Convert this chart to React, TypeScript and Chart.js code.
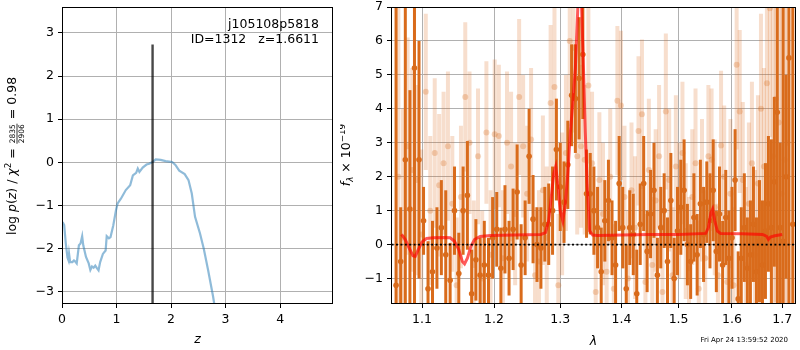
import React, { useEffect, useRef } from "react";
import { Chart, registerables } from "chart.js";

Chart.register(...registerables);

const FONT = "'DejaVu Sans', 'Liberation Sans', sans-serif";

// ---------------- Left panel: log p(z) ----------------
const zValues = [
  0.0, 0.02, 0.04, 0.07, 0.1, 0.12, 0.13, 0.15, 0.19, 0.22,
  0.24, 0.27, 0.31, 0.34, 0.37, 0.39, 0.44, 0.49, 0.52, 0.55,
  0.58, 0.61, 0.64, 0.67, 0.7, 0.75, 0.8, 0.82, 0.86, 0.89,
  0.94, 0.99, 1.02, 1.08, 1.17, 1.25, 1.3, 1.36, 1.39, 1.42,
  1.48, 1.55, 1.6, 1.66, 1.72, 1.81, 1.9, 2.02, 2.08, 2.15,
  2.25, 2.32, 2.38, 2.44, 2.53, 2.6, 2.68, 2.77, 2.82,
];
const logPzValues = [
  -1.38, -1.4, -1.45, -1.88, -2.2, -2.27, -2.12, -2.31, -2.31, -2.27,
  -2.29, -2.34, -1.92, -1.88, -1.71, -1.92, -2.19, -2.34, -2.49, -2.41,
  -2.44, -2.39, -2.45, -2.5, -2.31, -2.12, -2.04, -1.71, -1.76, -1.73,
  -1.46, -1.11, -0.95, -0.84, -0.64, -0.53, -0.3, -0.24, -0.14, -0.22,
  -0.12, -0.05, -0.03, 0.01, 0.07, 0.06, 0.03, 0.01, -0.06, -0.19,
  -0.27, -0.41, -0.72, -1.26, -1.64, -2.0, -2.5, -3.1, -3.5,
];
const zBest = 1.6611;
const zBestTop = 2.73;
const zTicks = [0, 1, 2, 3, 4];
const logPzTicks = [-3, -2, -1, 0, 1, 2, 3];
const objName = "j105108p5818";
const objInfo = "ID=1312   z=1.6611";
const chi2Num = "2835";
const chi2Den = "2906";
const chi2Val = "0.98";

// ---------------- Right panel: spectrum ----------------
const lamA = [
  1.066, 1.072, 1.078, 1.084, 1.09, 1.096, 1.102, 1.108, 1.114, 1.12,
  1.126, 1.132, 1.138, 1.144, 1.15, 1.156, 1.162, 1.168, 1.174, 1.18,
  1.186, 1.192, 1.198, 1.204, 1.21, 1.216, 1.222, 1.228, 1.234, 1.24,
  1.246, 1.252, 1.258, 1.264, 1.27, 1.276, 1.282, 1.288, 1.294, 1.3,
  1.306, 1.312, 1.318, 1.324, 1.33, 1.336, 1.342, 1.348, 1.354, 1.36,
  1.366, 1.372, 1.378, 1.384, 1.39, 1.396, 1.402, 1.408, 1.414, 1.42,
  1.426, 1.432, 1.438, 1.444, 1.45, 1.456, 1.462, 1.468, 1.474, 1.48,
  1.486, 1.492, 1.498, 1.504, 1.51, 1.516, 1.522, 1.528, 1.534, 1.54,
  1.546, 1.552, 1.558, 1.564, 1.57, 1.576, 1.582, 1.588, 1.594, 1.6,
  1.606, 1.612, 1.618, 1.624, 1.63, 1.636, 1.642, 1.648, 1.654, 1.66,
  1.666, 1.672, 1.678, 1.684, 1.69, 1.696, 1.702, 1.708, 1.714, 1.722,
];
const fluxA = [
  -1.2, -0.5, 2.5, 1.05, 5.2, 2.5, 0.7, -1.3, -0.8, -0.1,
  0.5, -0.3, -1.05, 1.0, -0.85, 1.0, 1.45, -1.45, -0.45, -0.9,
  -0.6, -0.9, 0.2, 0.45, -0.7, 0.45, -0.4, 0.45, 1.55, -0.6,
  0.2, 2.6, 0.75, 0.0, -0.1, 0.6, 0.6, 1.0, 2.8, 1.7,
  1.25, 2.35, 4.4, 4.3, 4.9, 5.6, 1.5, 1.5, 1.0, 0.5,
  -0.8, 0.7, 1.3, 0.2, -0.6, 1.8, 0.5, -1.3, 0.5, 0.3,
  -1.45, 0.6, 1.8, -0.2, 0.9, 1.6, -0.9, 0.5, 1.0, -0.5,
  1.3, -1.0, 0.4, 1.1, 1.6, 0.0, -0.5, 0.8, -0.3, 1.2,
  0.3, 1.25, 0.7, 1.6, -0.2, 0.9, -0.6, 0.8, -0.4, 0.2,
  1.9, -1.6, -0.4, 0.5, -0.7, -0.3, 0.6, -0.8, 0.1, -0.6,
  0.4, 1.2, 0.5, 1.85, 3.9, 0.5, 0.1, 2.0, 5.5, 0.6,
];
const errA = [
  9, 1.6, 9, 3.5, 9, 3.5, 1.0, 1.4, 1.5, 1.2,
  1.4, 1.9, 1.1, 1.3, 1.2, 1.3, 1.6, 1.3, 1.2, 1.1,
  1.3, 1.1, 1.2, 1.1, 1.2, 1.3, 1.1, 1.2, 1.4, 1.2,
  1.1, 1.4, 1.3, 1.1, 1.2, 1.1, 1.2, 1.3, 1.5, 1.3,
  1.2, 1.3, 1.5, 1.6, 1.8, 1.9, 1.3, 1.2, 1.3, 1.2,
  1.3, 1.2, 1.2, 1.1, 1.3, 1.4, 1.2, 1.3, 1.1, 1.2,
  1.3, 1.2, 1.4, 1.2, 1.3, 1.4, 1.1, 1.2, 1.1, 1.3,
  1.4, 1.2, 1.3, 1.4, 1.5, 1.2, 1.1, 1.3, 1.2, 1.3,
  1.4, 1.2, 1.4, 1.5, 1.2, 1.4, 1.3, 1.4, 1.4, 1.5,
  1.5, 1.4, 1.5, 1.6, 1.5, 1.6, 1.7, 1.6, 1.8, 1.9,
  2.0, 2.0, 2.6, 2.5, 9, 2.5, 9, 3.0, 9, 9,
];

const lamB = [
  1.069, 1.075, 1.081, 1.087, 1.093, 1.099, 1.105, 1.111, 1.117, 1.123,
  1.129, 1.135, 1.141, 1.147, 1.153, 1.159, 1.165, 1.171, 1.177, 1.183,
  1.189, 1.195, 1.201, 1.207, 1.213, 1.219, 1.225, 1.231, 1.237, 1.243,
  1.249, 1.255, 1.261, 1.267, 1.273, 1.279, 1.285, 1.291, 1.297, 1.303,
  1.309, 1.315, 1.321, 1.327, 1.333, 1.339, 1.345, 1.351, 1.357, 1.363,
  1.369, 1.375, 1.381, 1.387, 1.393, 1.399, 1.405, 1.411, 1.417, 1.423,
  1.429, 1.435, 1.441, 1.447, 1.453, 1.459, 1.465, 1.471, 1.477, 1.483,
  1.489, 1.495, 1.501, 1.507, 1.513, 1.519, 1.525, 1.531, 1.537, 1.543,
  1.549, 1.555, 1.561, 1.567, 1.573, 1.579, 1.585, 1.591, 1.597, 1.603,
  1.609, 1.615, 1.621, 1.627, 1.633, 1.639, 1.645, 1.651, 1.657, 1.663,
  1.669, 1.675, 1.681, 1.687, 1.693, 1.699, 1.705, 1.711,
];
const fluxB = [
  2.0, 0.2, 2.9, 2.2, 1.9, 0.3, 4.5, 1.0, 2.7, 1.75,
  2.4, 2.9, 1.2, -1.2, 1.4, 4.35, 3.0, -0.6, 2.6, -1.0,
  3.3, -0.3, 3.25, 3.2, -0.4, 3.0, 2.3, 0.9, 4.35, 2.9,
  1.5, 3.1, -0.9, -0.5, 1.6, 0.2, 4.17, 4.64, -1.2, 1.2,
  2.7, 6.0, 5.8, 2.6, 2.9, 2.5, 4.69, 2.4, -1.4, 1.9,
  0.9, -0.8, 2.0, -1.3, 4.24, 4.1, 1.4, -1.0, 1.6, 0.5,
  3.35, 3.84, -1.1, 2.2, -0.6, 1.3, 2.6, -1.4, 3.92, 1.9,
  -0.9, 2.3, 1.0, 2.7, 0.4, -0.7, 1.4, 2.4, -1.3, 1.6,
  -0.4, 2.6, 2.5, 1.1, -0.9, 2.92, 2.0, -1.1, 1.5, -1.2,
  5.3, 3.92, 1.9, -0.6, 1.2, 2.4, -0.3, 1.8, 4.0, 2.3,
  4.75, 6.96, 2.6, 4.3, 3.6, 1.5, 2.5, 3.0,
];
const errB = [
  6, 3.8, 3.2, 3.0, 2.8, 2.5, 2.3, 2.2, 2.2, 2.1,
  2.1, 2.2, 2.0, 2.0, 2.1, 2.2, 2.1, 1.9, 2.0, 2.0,
  2.1, 1.9, 2.2, 2.1, 2.0, 2.1, 2.2, 2.1, 2.3, 2.1,
  2.0, 2.1, 2.0, 2.1, 2.2, 2.1, 2.3, 2.4, 2.1, 2.1,
  2.3, 2.5, 2.5, 2.3, 2.4, 2.2, 2.3, 2.1, 2.0, 2.0,
  2.1, 2.0, 2.0, 1.9, 2.2, 2.2, 2.1, 2.0, 2.0, 2.1,
  2.2, 2.2, 2.0, 2.1, 2.0, 2.1, 2.1, 2.0, 2.3, 2.1,
  2.0, 2.1, 2.0, 2.1, 2.0, 2.1, 2.0, 2.2, 2.0, 2.1,
  2.0, 2.1, 2.1, 2.0, 2.1, 2.2, 2.1, 2.1, 2.2, 2.3,
  2.5, 2.4, 2.3, 2.3, 2.4, 2.4, 2.5, 2.6, 2.8, 2.9,
  3.3, 3.8, 4.8, 6, 7, 8, 9, 9,
];

const modelLam = [
  1.073, 1.078, 1.083, 1.088, 1.091, 1.095, 1.1, 1.106, 1.115, 1.13,
  1.138, 1.144, 1.15, 1.155, 1.158, 1.162, 1.167, 1.172, 1.18, 1.195,
  1.23, 1.27, 1.277, 1.282, 1.286, 1.29, 1.293, 1.296, 1.3, 1.304,
  1.308, 1.312, 1.316, 1.32, 1.324, 1.328, 1.331, 1.334, 1.337, 1.34,
  1.343, 1.347, 1.352, 1.36, 1.4, 1.45, 1.5, 1.55, 1.555, 1.56,
  1.563, 1.567, 1.572, 1.578, 1.62, 1.66, 1.668, 1.672, 1.676, 1.685,
  1.7,
];
const modelFlux = [
  0.3, 0.15, -0.1, -0.33, -0.35, -0.15, 0.08, 0.18, 0.2, 0.21,
  0.2, 0.1, -0.15, -0.5, -0.57, -0.4, -0.05, 0.15, 0.24, 0.27,
  0.28, 0.3, 0.35, 0.7, 1.4, 2.1, 2.3, 1.8, 1.0, 0.7,
  1.2, 2.1, 3.3, 4.2, 5.2, 7.0, 8.0, 7.0, 5.2, 3.3,
  1.8, 0.4, 0.28, 0.27, 0.28, 0.3, 0.3, 0.33, 0.5, 0.95,
  1.05, 0.7, 0.4, 0.33, 0.32, 0.3, 0.25, 0.15, 0.22, 0.26,
  0.3,
];
const lamTicks = [1.1, 1.2, 1.3, 1.4, 1.5, 1.6, 1.7];
const fluxTicks = [-1, 0, 1, 2, 3, 4, 5, 6, 7];
const dateText = "Fri Apr 24 13:59:52 2020";

// ---------------- helpers ----------------
const DARK = "rgb(217,107,27)";
const font = (size: number, italic = false) => `${italic ? "italic " : ""}${size}px ${FONT}`;
const withMinus = (v: number, d: number) => {
  const s = Math.abs(v).toFixed(d);
  return v < 0 ? "\u2212" + s : s;
};

type TextSeg = { kind: "t"; text: string; font: string; dy: number };
type FracSeg = { kind: "f"; num: string; den: string; font: string; numDy: number; bar: number; denDy: number; pad: number };
type Seg = TextSeg | FracSeg;

function segWidth(ctx: CanvasRenderingContext2D, s: Seg): number {
  ctx.font = s.font;
  if (s.kind === "t") return ctx.measureText(s.text).width;
  return Math.max(ctx.measureText(s.num).width, ctx.measureText(s.den).width) + 2 * s.pad;
}

function drawVerticalRich(ctx: CanvasRenderingContext2D, segs: Seg[], baseX: number, centerY: number) {
  ctx.save();
  ctx.translate(baseX, centerY);
  ctx.rotate(-Math.PI / 2);
  ctx.fillStyle = "black";
  ctx.textBaseline = "alphabetic";
  const widths = segs.map((s) => segWidth(ctx, s));
  const total = widths.reduce((a, b) => a + b, 0);
  let u = -total / 2;
  segs.forEach((s, i) => {
    ctx.font = s.font;
    if (s.kind === "t") {
      ctx.textAlign = "left";
      ctx.fillText(s.text, u, s.dy);
    } else {
      const w = widths[i];
      ctx.textAlign = "center";
      ctx.fillText(s.num, u + w / 2, s.numDy);
      ctx.fillText(s.den, u + w / 2, s.denDy);
      ctx.fillRect(u + 0.5, s.bar - 0.4, w - 1, 0.8);
    }
    u += widths[i];
  });
  ctx.restore();
}

function axis(type: string, min: number, max: number, ticks: number[], fmt: (v: number) => string, isX: boolean, size: number) {
  return {
    type,
    min,
    max,
    bounds: "data",
    afterBuildTicks: (s: any) => {
      s.ticks = ticks.map((v) => ({ value: v }));
    },
    afterFit: (s: any) => {
      if (isX) s.height = size;
      else s.width = size;
      s.paddingTop = 0;
      s.paddingBottom = 0;
      s.paddingLeft = 0;
      s.paddingRight = 0;
    },
    ticks: {
      callback: (v: any) => fmt(Number(v)),
      color: "black",
      font: { family: FONT, size: 12.5 },
      padding: 4,
      autoSkip: false,
      maxRotation: 0,
      minRotation: 0,
    },
    grid: { color: "#b0b0b0", lineWidth: 1, tickColor: "black", tickLength: 4, drawTicks: true, offset: false },
    border: { display: false },
  };
}

const framePlugin = {
  id: "frame",
  afterDatasetsDraw(chart: any) {
    const { ctx, chartArea: a } = chart;
    ctx.save();
    ctx.strokeStyle = "black";
    ctx.lineWidth = 1;
    const l = Math.round(a.left) + 0.5;
    const r = Math.round(a.right) - 0.5;
    const t = Math.round(a.top) + 0.5;
    const b = Math.round(a.bottom) - 0.5;
    ctx.strokeRect(l, t, r - l, b - t);
    ctx.restore();
  },
};

const leftTextPlugin = {
  id: "leftText",
  afterDraw(chart: any) {
    const { ctx, chartArea: a } = chart;
    ctx.save();
    ctx.fillStyle = "black";
    ctx.font = font(12.5);
    ctx.textAlign = "right";
    ctx.textBaseline = "alphabetic";
    ctx.fillText(objName, 319, 28);
    ctx.fillText(objInfo, 319, 43);
    ctx.textAlign = "center";
    ctx.font = font(12.5, true);
    ctx.fillText("z", (a.left + a.right) / 2, 343);
    ctx.restore();
    const R = font(12.5);
    const I = font(12.5, true);
    drawVerticalRich(
      ctx,
      [
        { kind: "t", text: "log ", font: R, dy: 0 },
        { kind: "t", text: "p", font: I, dy: 0 },
        { kind: "t", text: "(", font: R, dy: 0 },
        { kind: "t", text: "z", font: I, dy: 0 },
        { kind: "t", text: ") / ", font: R, dy: 0 },
        { kind: "t", text: "\u03c7", font: I, dy: 0 },
        { kind: "t", text: "2", font: font(8.75), dy: -5 },
        { kind: "t", text: " = ", font: R, dy: 0 },
        { kind: "f", num: chi2Num, den: chi2Den, font: font(7.5), numDy: -1, bar: 1.0, denDy: 7.8, pad: 1 },
        { kind: "t", text: " = " + chi2Val, font: R, dy: 0 },
      ],
      16,
      156
    );
  },
};

const rightTextPlugin = {
  id: "rightText",
  afterDraw(chart: any) {
    const { ctx, chartArea: a } = chart;
    ctx.save();
    ctx.fillStyle = "black";
    ctx.textAlign = "center";
    ctx.textBaseline = "alphabetic";
    ctx.font = font(12.5, true);
    ctx.fillText("\u03bb", (a.left + a.right) / 2, 345);
    ctx.font = font(7);
    ctx.textAlign = "right";
    ctx.fillText(dateText, 448, 342);
    ctx.restore();
    drawVerticalRich(
      ctx,
      [
        { kind: "t", text: "f", font: font(12.5, true), dy: 0 },
        { kind: "t", text: "\u03bb", font: font(8.75, true), dy: 2.5 },
        { kind: "t", text: " \u00d7 10", font: font(12.5), dy: 0 },
        { kind: "t", text: "\u221219", font: font(8.75), dy: -5.5 },
      ],
      10,
      155
    );
  },
};

function leftConfig(): any {
  return {
    type: "scatter",
    data: {
      datasets: [
        {
          type: "line",
          data: zValues.map((z, i) => ({ x: z, y: logPzValues[i] })),
          borderColor: "rgba(31,119,180,0.5)",
          borderWidth: 2.2,
          pointRadius: 0,
          tension: 0,
          clip: 0,
          order: 2,
        },
        {
          type: "line",
          data: [
            { x: zBest, y: -4 },
            { x: zBest, y: zBestTop },
          ],
          borderColor: "rgba(0,0,0,0.72)",
          borderWidth: 2.4,
          pointRadius: 0,
          clip: 0,
          order: 1,
        },
      ],
    },
    options: {
      animation: false,
      responsive: false,
      devicePixelRatio: 1,
      events: [],
      layout: { padding: { left: 0, right: 7, top: 7, bottom: 0 } },
      plugins: { legend: { display: false }, tooltip: { enabled: false } },
      scales: {
        x: axis("linear", 0, 4.97, zTicks, (v) => withMinus(v, 0), true, 46),
        y: axis("linear", -3.28, 3.6, logPzTicks, (v) => withMinus(v, 0), false, 62),
      },
    },
    plugins: [framePlugin, leftTextPlugin],
  };
}

function rightConfig(): any {
  const lightBars = lamB.map((l, i) => ({ x: l, y: [fluxB[i] - errB[i], fluxB[i] + errB[i]] }));
  const lightPts = lamB.map((l, i) => ({ x: l, y: fluxB[i] }));
  const darkBars = lamA.map((l, i) => ({ x: l, y: [fluxA[i] - errA[i], fluxA[i] + errA[i]] }));
  const darkPts = lamA.map((l, i) => ({ x: l, y: fluxA[i] }));
  const model = modelLam.map((l, i) => ({ x: l, y: modelFlux[i] }));
  return {
    type: "scatter",
    data: {
      datasets: [
        {
          type: "bar",
          data: lightBars,
          backgroundColor: "rgba(217,107,27,0.22)",
          barThickness: 4,
          grouped: false,
          inflateAmount: 0,
          borderWidth: 0,
          clip: 0,
          order: 6,
        },
        {
          type: "scatter",
          data: lightPts,
          pointRadius: 3,
          backgroundColor: "rgba(217,107,27,0.28)",
          borderColor: "rgba(0,0,0,0)",
          borderWidth: 0,
          clip: 0,
          order: 5,
        },
        {
          type: "bar",
          data: darkBars,
          backgroundColor: DARK,
          barThickness: 3,
          grouped: false,
          inflateAmount: 0,
          borderWidth: 0,
          clip: 0,
          order: 4,
        },
        {
          type: "scatter",
          data: darkPts,
          pointRadius: 2.8,
          backgroundColor: DARK,
          borderColor: "rgba(0,0,0,0)",
          borderWidth: 0,
          clip: 0,
          order: 3,
        },
        {
          type: "line",
          data: model,
          borderColor: "rgba(255,0,0,0.65)",
          borderWidth: 3,
          pointRadius: 0,
          tension: 0,
          clip: 0,
          order: 2,
        },
        {
          type: "line",
          data: [
            { x: 1.0, y: 0 },
            { x: 1.8, y: 0 },
          ],
          borderColor: "black",
          borderWidth: 1.8,
          borderDash: [2, 2.4],
          pointRadius: 0,
          clip: 0,
          order: 1,
        },
      ],
    },
    options: {
      animation: false,
      responsive: false,
      devicePixelRatio: 1,
      events: [],
      layout: { padding: { left: 0, right: 1, top: 7, bottom: 0 } },
      plugins: { legend: { display: false }, tooltip: { enabled: false } },
      scales: {
        x: axis("logarithmic", 1.0595, 1.7287, lamTicks, (v) => v.toFixed(1), true, 46),
        y: axis("linear", -1.75, 7, fluxTicks, (v) => withMinus(v, 0), false, 51),
      },
    },
    plugins: [framePlugin, rightTextPlugin],
  };
}

export default function App() {
  const leftRef = useRef<HTMLCanvasElement>(null);
  const rightRef = useRef<HTMLCanvasElement>(null);
  useEffect(() => {
    const c1 = new Chart(leftRef.current as HTMLCanvasElement, leftConfig());
    const c2 = new Chart(rightRef.current as HTMLCanvasElement, rightConfig());
    return () => {
      c1.destroy();
      c2.destroy();
    };
  }, []);
  return (
    <div style={{ position: "fixed", left: 0, top: 0, width: 800, height: 350, background: "white" }}>
      <canvas
        ref={leftRef}
        width={340}
        height={350}
        style={{ position: "absolute", left: 0, top: 0, width: 340, height: 350 }}
      />
      <canvas
        ref={rightRef}
        width={460}
        height={350}
        style={{ position: "absolute", left: 340, top: 0, width: 460, height: 350 }}
      />
    </div>
  );
}
